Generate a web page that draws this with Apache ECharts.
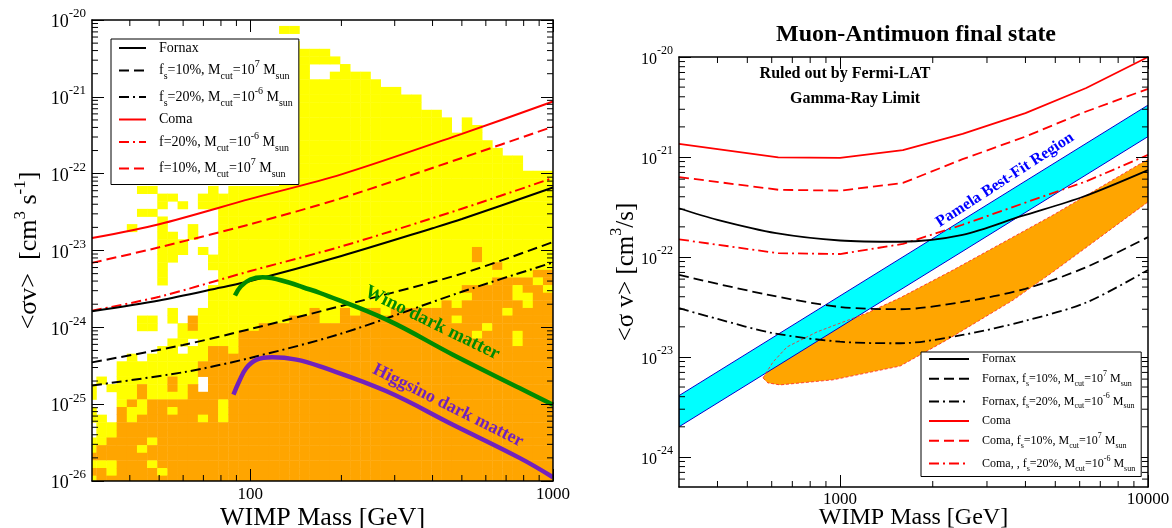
<!DOCTYPE html>
<html>
<head>
<meta charset="utf-8">
<title>WIMP annihilation limits</title>
<script src="https://cdn.jsdelivr.net/npm/echarts@6.0.0/dist/echarts.min.js"></script>
<style>
html,body{margin:0;padding:0;background:#ffffff;}
#chart{width:1172px;height:528px;}
</style>
</head>
<body>
<div id="chart"></div>
<script>
const FONT = '"Liberation Serif", "Times New Roman", serif';

// ================= LEFT PANEL DATA =================
const leftMassRange = [30, 1000];
const leftSvRange = [1e-26, 1e-20];
const leftMassTicks = [100, 1000];
const leftSvTicks = [1e-26, 1e-25, 1e-24, 1e-23, 1e-22, 1e-21, 1e-20];

const fornaxL   = [[30,1.62e-24],[50,2.24e-24],[80,3.3e-24],[100,4.0e-24],[200,8.5e-24],[400,1.95e-23],[500,2.57e-23],[1000,6.6e-23]];
const fornaxL10 = [[30,3.5e-25],[60,5.9e-25],[100,9.5e-25],[200,1.9e-24],[500,5.0e-24],[1000,1.29e-23]];
const fornaxL20 = [[30,1.75e-25],[60,2.6e-25],[100,4.0e-25],[200,8.3e-25],[500,2.9e-24],[1000,7.0e-24]];
const comaL     = [[30,1.45e-23],[50,2.2e-23],[100,4.7e-23],[200,9.8e-23],[500,3.3e-22],[1000,8.7e-22]];
const comaL20   = [[30,1.65e-24],[50,2.5e-24],[100,5.4e-24],[200,1.13e-23],[500,3.5e-23],[1000,8.8e-23]];
const comaL10   = [[30,6.9e-24],[50,1.1e-23],[100,2.2e-23],[200,4.8e-23],[500,1.6e-22],[1000,4.1e-22]];
const wino      = [[89,2.6e-24],[93,3.4e-24],[100,4.2e-24],[110,4.5e-24],[135,3.8e-24],[150,3.3e-24],[170,2.8e-24],[282,1.26e-24],[467,4.4e-25],[775,1.62e-25],[1000,9.8e-26]];
const higgsino  = [[88,1.33e-25],[92,2.0e-25],[97,2.95e-25],[105,3.8e-25],[118,4.07e-25],[142,3.8e-25],[170,3.1e-25],[282,1.47e-25],[467,5.4e-26],[775,2.0e-26],[1000,1.12e-26]];

const leftNotes = [
  {text: 'Wino dark matter', mass: 399, sv: 1.14e-24},
  {text: 'Higgsino dark matter', mass: 450, sv: 9.6e-26}
];

const leftLegendIds = ['LF','LF10','LF20','LC','LC20','LC10'];
const leftLegendText = [
  '{b|Fornax}',
  '{b|f}{sub|s}{b|=10%, M}{sub|cut}{b|=10}{sup|7}{b| M}{sub|sun}',
  '{b|f}{sub|s}{b|=20%, M}{sub|cut}{b|=10}{sup|-6}{b| M}{sub|sun}',
  '{b|Coma}',
  '{b|f=20%, M}{sub|cut}{b|=10}{sup|-6}{b| M}{sub|sun}',
  '{b|f=10%, M}{sub|cut}{b|=10}{sup|7}{b| M}{sub|sun}'
];

// Binned model scan (left panel), bins in log10 space
const scanLogMass0 = 1.4580, scanLogMassStep = 0.03353, scanCols = 46;
const scanLogSv0 = -19.978, scanLogSvStep = 0.0992, scanRows = 61;
// runs: [column, firstRow, lastRow]
const yellowRuns = [
  [19,1,1],[20,1,1],
  [13,23,60],[14,22,60],[15,22,60],[16,22,60],[17,22,60],[18,22,60],[19,3,60],[20,3,60],
  [21,4,60],[22,4,5],[22,8,60],[23,4,5],[23,8,60],[24,5,60],[25,6,60],[26,7,60],[27,7,60],
  [28,8,60],[29,9,60],[30,9,60],[31,10,60],[32,10,60],[33,12,60],[34,12,60],[35,13,60],
  [36,15,60],[37,13,60],[38,14,60],[39,16,60],[40,17,60],[41,18,60],[42,18,60],[43,20,60],
  [44,20,60],[45,20,60],
  [4,27,27],[5,22,22],[6,22,22],[5,25,25],[6,25,25],[7,23,24],[7,26,34],[8,23,23],[8,28,31],
  [8,38,39],[9,24,24],[9,29,30],[10,27,28],[11,23,24],[11,30,30],[12,22,24],[12,31,32],[12,35,42],
  [5,39,40],[6,39,40],[9,40,42],[10,41,41],[11,38,42],
  [3,45,49],[4,44,49],[5,45,49],[6,44,49],[7,43,49],[8,42,49],[9,44,49],[10,43,49],[11,43,44],
  [0,48,49],[0,51,52],[0,55,56],[1,47,47],[1,52,54],[1,55,55],[2,48,48],[2,53,54]
];
const orangeRuns = [
  [0,57,60],[1,56,60],[2,55,60],[3,50,60],[4,50,60],[5,50,60],[6,50,60],[7,50,60],[8,50,60],
  [9,50,60],[10,48,60],[11,45,60],[12,43,60],[13,43,60],[14,43,60],[15,43,60],[16,43,60],
  [17,40,60],[18,40,60],[19,40,60],[20,39,60],[21,39,60],[22,38,60],[23,39,60],[24,39,60],
  [25,38,60],[26,39,60],[27,38,60],[28,38,60],[29,38,60],[30,38,60],[31,38,60],[32,38,60],
  [33,38,60],[34,38,60],[35,37,60],[36,38,60],[37,35,60],[38,35,60],[39,35,60],[40,34,60],
  [41,34,60],[42,34,60],[43,34,60],[44,33,60],[45,33,60],
  [10,39,40],[8,47,48],[5,48,49],[38,30,31],[40,32,32],[15,41,42],[16,41,42]
];
const yellowSpots = [
  [0,58,58],[0,60,60],[1,58,58],[2,58,59],[3,50,50],[4,51,52],[5,50,51],[5,56,56],[6,55,55],
  [6,58,58],[7,59,59],[8,51,51],[11,52,52],[13,50,52],[14,43,43],[23,39,39],[24,39,39],
  [29,38,38],[36,39,39],[37,36,36],[38,41,41],[39,40,40],[41,38,38],[42,35,36],[42,41,42],
  [43,36,37],[44,34,34],[45,35,35]
];
const emptyRuns = [[13,22,22],[11,47,48],[24,6,6]];

// ================= RIGHT PANEL DATA =================
const rightMassRange = [300, 10000];
const rightSvRange = [5e-25, 1e-20];
const rightMassTicks = [1000, 10000];
const rightSvTicks = [1e-24, 1e-23, 1e-22, 1e-21, 1e-20];

const fornaxR   = [[300,3.07e-22],[400,2.35e-22],[620,1.73e-22],[1000,1.46e-22],[1570,1.42e-22],[2500,1.66e-22],[3900,2.57e-22],[6150,4.0e-22],[10000,7.4e-22]];
const fornaxR10 = [[300,6.6e-23],[580,4.2e-23],[1000,3.16e-23],[1570,3.0e-23],[2500,3.55e-23],[4000,4.8e-23],[6300,7.9e-23],[10000,1.58e-22]];
const fornaxR20 = [[300,3.07e-23],[400,2.4e-23],[600,1.74e-23],[1000,1.42e-23],[1570,1.37e-23],[2500,1.66e-23],[4000,2.3e-23],[6300,3.5e-23],[10000,7.4e-23]];
const comaR     = [[300,1.35e-21],[630,9.9e-22],[1000,9.8e-22],[1600,1.17e-21],[2500,1.7e-21],[4000,2.75e-21],[6300,4.9e-21],[10000,1.0e-20]];
const comaR10   = [[300,6.3e-22],[630,4.7e-22],[1000,4.6e-22],[1600,5.5e-22],[2500,9.5e-22],[4000,1.6e-21],[6300,2.85e-21],[10000,4.8e-21]];
const comaR20   = [[300,1.5e-22],[630,1.09e-22],[1000,1.07e-22],[1600,1.35e-22],[2500,2.1e-22],[4000,3.5e-22],[6300,5.7e-22],[10000,1.05e-21]];
const pamelaUpper = [[300,4.1e-24],[10000,3.3e-21]];
const pamelaLower = [[300,2.0e-24],[10000,1.6e-21]];
const orangeUpper = [[562,6.17e-24],[606,8.9e-24],[673,1.26e-23],[842,1.78e-23],[1224,2.75e-23],[1567,3.9e-23],[2328,7.4e-23],[4920,2.63e-22],[10000,9.5e-22]];
const orangeLower = [[562,6.17e-24],[583,5.5e-24],[638,5.25e-24],[949,5.9e-24],[1567,8.1e-24],[2224,1.48e-23],[3648,3.7e-23],[4920,7.1e-23],[10000,3.55e-22]];

const rightNotes = [
  {text: 'Pamela Best-Fit Region', mass: 3434, sv: 5.9e-22},
  {text: 'Ruled out by Fermi-LAT', mass: 1038, sv: 6.76e-21},
  {text: 'Gamma-Ray Limit', mass: 1119, sv: 3.85e-21}
];

const rightLegendIds = ['RF','RF10','RF20','RC','RC10','RC20'];
const rightLegendText = [
  '{b|Fornax}',
  '{b|Fornax, f}{sub|s}{b|=10%, M}{sub|cut}{b|=10}{sup|7}{b| M}{sub|sun}',
  '{b|Fornax, f}{sub|s}{b|=20%, M}{sub|cut}{b|=10}{sup|-6}{b| M}{sub|sun}',
  '{b|Coma}',
  '{b|Coma, f}{sub|s}{b|=10%, M}{sub|cut}{b|=10}{sup|7}{b| M}{sub|sun}',
  '{b|Coma, , f}{sub|s}{b|=20%, M}{sub|cut}{b|=10}{sup|-6}{b| M}{sub|sun}'
];

// minor tick multipliers
const minorMult = [2,3,4,5,6,7,8,9];

// ================= BUILD =================
function buildCells() {
  const g = [];
  for (let c = 0; c < scanCols; c++) g.push(new Array(scanRows).fill(0));
  const apply = (runs, v) => runs.forEach(([c, a, b]) => {
    for (let r = a; r <= b; r++) if (c < scanCols && r < scanRows) g[c][r] = v;
  });
  apply(yellowRuns, 1); apply(orangeRuns, 2); apply(yellowSpots, 1); apply(emptyRuns, 0);
  const out = [];
  for (let c = 0; c < scanCols; c++) for (let r = 0; r < scanRows; r++) {
    if (!g[c][r]) continue;
    out.push([
      Math.pow(10, scanLogMass0 + c * scanLogMassStep),
      Math.pow(10, scanLogMass0 + (c + 1) * scanLogMassStep),
      Math.pow(10, scanLogSv0 - (r + 1) * scanLogSvStep),
      Math.pow(10, scanLogSv0 - r * scanLogSvStep),
      g[c][r]
    ]);
  }
  return out;
}

function decadeMinors(e0, e1) {
  const out = [];
  for (let e = e0; e <= e1; e++) minorMult.forEach(k => out.push(k * Math.pow(10, e)));
  return out;
}

function isPow10(v) {
  const l = Math.log10(v);
  return Math.abs(l - Math.round(l)) < 1e-6;
}
function powLabel(v) {
  if (!isPow10(v)) return '';
  return '{b|10}{s|' + Math.round(Math.log10(v)) + '}';
}
function plainLabel(v) {
  if (!isPow10(v)) return '';
  return String(Math.round(v));
}

function lineSeries(id, data, ax, color, type, width, smooth) {
  return {
    id: id, name: id, type: 'line', xAxisIndex: ax, yAxisIndex: ax, data: data,
    showSymbol: false, symbol: 'none', smooth: smooth, clip: true, silent: true, z: 4,
    lineStyle: {color: color, width: width, type: type}, itemStyle: {color: color},
    emphasis: {disabled: true}
  };
}

function minorTickSeries(ax, xVals, yVals, xRef, yRef, len) {
  const data = xVals.map(v => [v, yRef, 0]).concat(yVals.map(v => [xRef, v, 1]));
  return {
    type: 'custom', xAxisIndex: ax, yAxisIndex: ax, silent: true, z: 6, clip: false,
    data: data, encode: {x: 0, y: 1},
    renderItem: function (params, api) {
      const cs = params.coordSys;
      const p = api.coord([api.value(0), api.value(1)]);
      const st = {stroke: '#000', lineWidth: 1};
      if (api.value(2) === 0) {
        return {type: 'group', children: [
          {type: 'line', shape: {x1: p[0], y1: cs.y + cs.height, x2: p[0], y2: cs.y + cs.height - len}, style: st},
          {type: 'line', shape: {x1: p[0], y1: cs.y, x2: p[0], y2: cs.y + len}, style: st}
        ]};
      }
      return {type: 'group', children: [
        {type: 'line', shape: {x1: cs.x, y1: p[1], x2: cs.x + len, y2: p[1]}, style: st},
        {type: 'line', shape: {x1: cs.x + cs.width, y1: p[1], x2: cs.x + cs.width - len, y2: p[1]}, style: st}
      ]};
    }
  };
}

function noteSeries(ax, notes, styles) {
  return {
    type: 'custom', xAxisIndex: ax, yAxisIndex: ax, silent: true, z: 7, clip: false,
    data: notes.map((n, i) => [n.mass, n.sv, i]), encode: {x: 0, y: 1},
    renderItem: function (params, api) {
      const p = api.coord([api.value(0), api.value(1)]);
      const s = styles[api.value(2)];
      return {
        type: 'text', x: p[0], y: p[1], rotation: s.angle * Math.PI / 180,
        style: {text: notes[api.value(2)].text, fill: s.color, font: 'bold ' + s.size + 'px ' + FONT,
                align: 'center', verticalAlign: 'middle'}
      };
    }
  };
}

function polySeries(ax, getPts, style, z) {
  return {
    type: 'custom', xAxisIndex: ax, yAxisIndex: ax, silent: true, z: z, clip: true,
    data: [[1000, 1e-22]], encode: {x: 0, y: 1},
    renderItem: function (params, api) {
      const pts = getPts().map(p => api.coord(p));
      return {type: 'polygon', shape: {points: pts}, style: style};
    }
  };
}

function xAxisDef(grid, range, ticks, pos, showLabel, nameSize, nameGap, labelMargin) {
  const a = {
    type: 'log', gridIndex: grid, min: range[0], max: range[1], position: pos, z: 5,
    axisLine: {show: true, onZero: false, lineStyle: {color: '#000', width: 1.5}},
    axisTick: {show: true, inside: true, length: 12, customValues: ticks, lineStyle: {color: '#000', width: 1}},
    splitLine: {show: false}, minorTick: {show: false}, minorSplitLine: {show: false},
    axisLabel: {show: showLabel, formatter: plainLabel, fontFamily: FONT, fontSize: 17, color: '#000',
                margin: labelMargin, customValues: ticks, showMinLabel: true, showMaxLabel: true, hideOverlap: false},
    nameMoveOverlap: false
  };
  if (showLabel) {
    a.name = 'WIMP Mass [GeV]'; a.nameLocation = 'middle'; a.nameGap = nameGap;
    a.nameTextStyle = {fontFamily: FONT, fontSize: nameSize, color: '#000'};
  }
  return a;
}
function yAxisDef(grid, range, ticks, pos, showLabel, name, nameSize, nameGap, fs, ss) {
  const a = {
    type: 'log', gridIndex: grid, min: range[0], max: range[1], position: pos, z: 5,
    axisLine: {show: true, onZero: false, lineStyle: {color: '#000', width: 1.5}},
    axisTick: {show: true, inside: true, length: 12, customValues: ticks, lineStyle: {color: '#000', width: 1}},
    splitLine: {show: false}, minorTick: {show: false}, minorSplitLine: {show: false},
    axisLabel: {show: showLabel, formatter: powLabel, margin: 6, padding: [5, 0, 0, 0], customValues: ticks,
      showMinLabel: true, showMaxLabel: true, hideOverlap: false,
      rich: {
        b: {fontFamily: FONT, fontSize: fs, lineHeight: 30, color: '#000', verticalAlign: 'middle'},
        s: {fontFamily: FONT, fontSize: ss, lineHeight: ss, color: '#000', verticalAlign: 'top'}
      }},
    nameMoveOverlap: false
  };
  if (showLabel) {
    a.name = name; a.nameLocation = 'middle'; a.nameGap = nameGap; a.nameRotate = 90;
    a.nameTextStyle = {rich: {
      b: {fontFamily: FONT, fontSize: nameSize, lineHeight: 34, color: '#000'},
      s: {fontFamily: FONT, fontSize: Math.round(nameSize * 0.65), lineHeight: Math.round(nameSize * 0.65), color: '#000', verticalAlign: 'top'}
    }};
  }
  return a;
}

function legendDef(ids, texts, left, top, fs, lh, itemW, gap, padding) {
  const ss = Math.round(fs * 0.68);
  return {
    data: ids, left: left, top: top, orient: 'vertical', z: 20, selectedMode: false,
    backgroundColor: '#ffffff', borderColor: '#000', borderWidth: 1, padding: padding,
    itemWidth: itemW, itemHeight: 12, itemGap: gap,
    itemStyle: {opacity: 0, borderWidth: 0},
    formatter: name => texts[ids.indexOf(name)],
    textStyle: {fontFamily: FONT, fontSize: fs, color: '#000', padding: [0, 0, 0, 8],
      rich: {
        b: {fontFamily: FONT, fontSize: fs, lineHeight: lh, color: '#000', verticalAlign: 'middle'},
        sub: {fontFamily: FONT, fontSize: ss, lineHeight: ss, color: '#000', verticalAlign: 'bottom'},
        sup: {fontFamily: FONT, fontSize: ss, lineHeight: ss, color: '#000', verticalAlign: 'top'}
      }}
  };
}

const cells = buildCells();
const DASH = [10, 5], DASHDOT = [10, 4, 2, 4];

const option = {
  animation: false,
  backgroundColor: '#ffffff',
  title: {
    text: 'Muon-Antimuon final state', left: 776, top: 23, padding: 0,
    textStyle: {fontFamily: FONT, fontWeight: 'bold', fontSize: 24, color: '#000'}
  },
  grid: [
    {left: 92, top: 20, width: 461, height: 461, containLabel: false, outerBoundsMode: 'none'},
    {left: 679, top: 57, width: 469, height: 430, containLabel: false, outerBoundsMode: 'none'}
  ],
  xAxis: [
    xAxisDef(0, leftMassRange, leftMassTicks, 'bottom', true, 26, 24, 5),
    xAxisDef(0, leftMassRange, leftMassTicks, 'top', false),
    xAxisDef(1, rightMassRange, rightMassTicks, 'bottom', true, 24, 19, 4),
    xAxisDef(1, rightMassRange, rightMassTicks, 'top', false)
  ],
  yAxis: [
    yAxisDef(0, leftSvRange, leftSvTicks, 'left', true, '{b|<σv>  [cm}{s|3}{b| s}{s|-1}{b|]}', 26, 46, 18, 13),
    yAxisDef(0, leftSvRange, leftSvTicks, 'right', false),
    yAxisDef(1, rightSvRange, rightSvTicks, 'left', true, '{b|<σ v> [cm}{s|3}{b|/s]}', 25, 36, 16, 12),
    yAxisDef(1, rightSvRange, rightSvTicks, 'right', false)
  ],
  legend: [
    legendDef(leftLegendIds, leftLegendText, 111, 39, 14, 22, 27, 4.5, [2, 6, 5, 7]),
    legendDef(rightLegendIds, rightLegendText, 921, 352, 12, 18, 40, 4.7, [1, 6, 4, 7])
  ],
  series: [
    // left: binned scan
    {
      type: 'custom', xAxisIndex: 0, yAxisIndex: 0, silent: true, z: 1, clip: true,
      data: cells, encode: {x: [0, 1], y: [2, 3]},
      renderItem: function (params, api) {
        const p1 = api.coord([api.value(0), api.value(3)]);
        const p2 = api.coord([api.value(1), api.value(2)]);
        return {type: 'rect', shape: {x: p1[0], y: p1[1], width: p2[0] - p1[0] + 0.4, height: p2[1] - p1[1] + 0.4},
                style: {fill: api.value(4) === 1 ? '#ffff00' : '#ffa500'}};
      }
    },
    lineSeries('LC', comaL, 0, '#ff0000', 'solid', 2, 0.3),
    lineSeries('LC20', comaL20, 0, '#ff0000', DASHDOT, 2, 0.3),
    lineSeries('LC10', comaL10, 0, '#ff0000', DASH, 2, 0.3),
    lineSeries('LF', fornaxL, 0, '#000000', 'solid', 2, 0.3),
    lineSeries('LF10', fornaxL10, 0, '#000000', DASH, 2, 0.3),
    lineSeries('LF20', fornaxL20, 0, '#000000', DASHDOT, 2, 0.3),
    lineSeries('Wino', wino, 0, '#008b00', 'solid', 4.5, 0.4),
    lineSeries('Higgsino', higgsino, 0, '#7221bc', 'solid', 4.5, 0.4),
    noteSeries(0, leftNotes, [{angle: -26, color: '#008b00', size: 19}, {angle: -26.5, color: '#7221bc', size: 18}]),
    minorTickSeries(0, [40,50,60,70,80,90,200,300,400,500,600,700,800,900], decadeMinors(-26, -21), 30, 1e-26, 6),

    // right: regions (grid 1 uses xAxis/yAxis index 2)
    polySeries(2, () => orangeUpper.concat(orangeLower.slice().reverse()), {fill: '#ffa500'}, 1),
    polySeries(2, () => pamelaUpper.concat(pamelaLower.slice().reverse()), {fill: '#00ffff', stroke: '#0000cc', lineWidth: 1}, 2),
    polySeries(2, () => orangeUpper.concat(orangeLower.slice().reverse()), {fill: null, stroke: '#ff2020', lineWidth: 0.8, lineDash: [3, 2]}, 3),
    lineSeries('RC', comaR, 2, '#ff0000', 'solid', 1.8, false),
    lineSeries('RC10', comaR10, 2, '#ff0000', DASH, 1.8, false),
    lineSeries('RC20', comaR20, 2, '#ff0000', DASHDOT, 1.8, false),
    lineSeries('RF', fornaxR, 2, '#000000', 'solid', 1.8, 0.3),
    lineSeries('RF10', fornaxR10, 2, '#000000', DASH, 1.8, 0.3),
    lineSeries('RF20', fornaxR20, 2, '#000000', DASHDOT, 1.8, 0.3),
    noteSeries(2, rightNotes, [{angle: 33, color: '#0000ff', size: 16}, {angle: 0, color: '#000', size: 16}, {angle: 0, color: '#000', size: 16}]),
    minorTickSeries(2, [400,500,600,700,800,900,2000,3000,4000,5000,6000,7000,8000,9000],
      [6e-25,7e-25,8e-25,9e-25].concat(decadeMinors(-24, -21)), 300, 5e-25, 6)
  ]
};

const chart = echarts.init(document.getElementById('chart'), null, {renderer: 'canvas', width: 1172, height: 528});
chart.setOption(option);
</script>
</body>
</html>
